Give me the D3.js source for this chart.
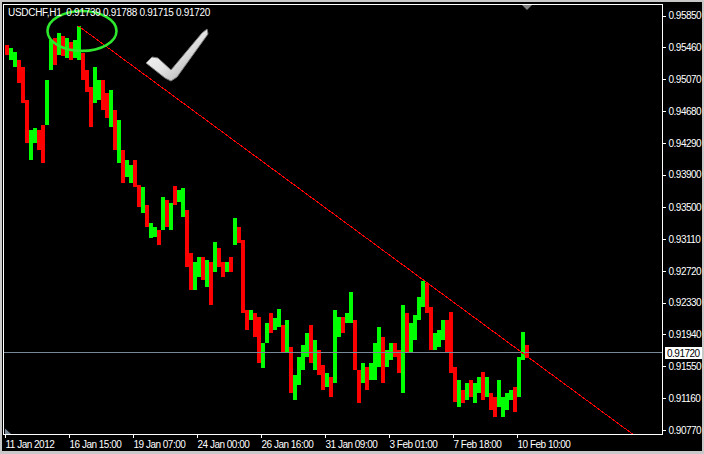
<!DOCTYPE html>
<html>
<head>
<meta charset="utf-8">
<script src="https://cdn.jsdelivr.net/npm/d3@7"></script>
<style>
  html, body { margin: 0; padding: 0; background: #000; }
  svg { display: block; }
</style>
</head>
<body>
<svg id="chart" width="704" height="454"></svg>
<script>
// ---- data (4-hour aggregated from the H1 chart) ----
const symbolTitle = "USDCHF,H1";
const lastOHLC = [0.91739, 0.91788, 0.91715, 0.91720];
const highs = [
  0.95489,0.95453,0.95404,0.95305,0.95220,0.94815,0.94447,0.94472,0.94447,0.94508,
  0.95060,0.95551,0.95575,0.95637,0.95600,0.95575,0.95526,0.95551,0.95722,0.95391,
  0.95183,0.94974,0.95220,0.95060,0.95060,0.94901,0.94938,0.94692,0.94570,0.94202,
  0.94079,0.94018,0.94079,0.93773,0.93748,0.93527,0.93306,0.93257,0.93221,0.93625,
  0.93589,0.93552,0.93760,0.93711,0.93736,0.93466,0.92939,0.92828,0.92890,0.92890,
  0.92853,0.92828,0.93073,0.93000,0.92828,0.92828,0.92890,0.93368,0.93257,0.93098,
  0.92240,0.92240,0.92203,0.92154,0.91835,0.92080,0.92203,0.92141,0.92252,0.92056,
  0.92117,0.91786,0.91442,0.91663,0.91810,0.91957,0.92056,0.91872,0.91749,0.91565,
  0.91467,0.91418,0.92240,0.92154,0.92154,0.92203,0.92460,0.92117,0.91504,0.91590,
  0.91540,0.91590,0.91835,0.92031,0.91908,0.91749,0.91835,0.91835,0.91749,0.92301,
  0.92203,0.92080,0.92178,0.92399,0.92595,0.92571,0.92276,0.91957,0.91994,0.92117,
  0.92117,0.92215,0.91540,0.91381,0.91258,0.91344,0.91381,0.91344,0.91418,0.91479,
  0.91418,0.91222,0.91173,0.91381,0.91173,0.91222,0.91258,0.91295,0.91663,0.91970,
  0.91810
];
const lows = [
  0.95367,0.95305,0.95220,0.95023,0.94778,0.94288,0.94079,0.94288,0.94202,0.94042,
  0.94508,0.95183,0.95244,0.95367,0.95355,0.95330,0.95305,0.95330,0.95305,0.95060,
  0.94913,0.94484,0.94778,0.94815,0.94692,0.94594,0.94484,0.94202,0.94042,0.93797,
  0.93871,0.93797,0.93748,0.93503,0.93429,0.93257,0.93122,0.93135,0.93037,0.93221,
  0.93257,0.93221,0.93527,0.93564,0.93380,0.92767,0.92485,0.92485,0.92644,0.92607,
  0.92522,0.92301,0.92706,0.92767,0.92644,0.92706,0.92706,0.93037,0.93061,0.92203,
  0.91994,0.92117,0.91908,0.91590,0.91528,0.91835,0.91957,0.91994,0.92031,0.91712,
  0.91712,0.91222,0.91136,0.91320,0.91504,0.91663,0.91590,0.91504,0.91442,0.91258,
  0.91295,0.91173,0.91344,0.91908,0.91957,0.92080,0.92080,0.91504,0.91099,0.91344,
  0.91258,0.91381,0.91381,0.91540,0.91344,0.91540,0.91626,0.91663,0.91467,0.91222,
  0.91712,0.91724,0.91872,0.92117,0.92276,0.92203,0.91749,0.91749,0.91786,0.91872,
  0.91712,0.91467,0.91111,0.91050,0.91099,0.91136,0.91173,0.91099,0.91222,0.91136,
  0.91173,0.91013,0.90927,0.91050,0.90927,0.91013,0.91136,0.90989,0.91173,0.91626,
  0.91650
];
// g = bullish (close > open), r = bearish
const directions = ("rggrrrggrr" + "ggrgrgrggr" + "rrggrrgrgr" + "ggrrgrggrg" + "rgrggrrggr" +
                    "grgrrgrgrr" + "rgrrggrggr" + "grggggrgrr" + "grggrggrrg" + "rgggrggrrg" +
                    "rggggrrggg" + "rrrgrgrggr" + "grrggggrggr").split("");
const hoursPerBar = 4;

const priceTicks = [0.95850,0.95460,0.95070,0.94680,0.94290,0.93900,0.93500,
                    0.93110,0.92720,0.92330,0.91940,0.91550,0.91160,0.90770];
const timeTickHours = [0, 64, 128, 192, 256, 320, 384, 448, 512];
const timeLabels = ["11 Jan 2012","16 Jan 15:00","19 Jan 07:00","24 Jan 00:00","26 Jan 16:00",
                    "31 Jan 09:00","3 Feb 01:00","7 Feb 18:00","10 Feb 10:00"];

const trendHours = [73.5, 627.5];
const trendPrices = [0.95722, 0.90719];
const bidPrice = 0.91720;

// ---- chart ----
const svg = d3.select("#chart");
const FONT = "'Liberation Sans', Arial, sans-serif";
const pL = 3.5, pR = 662.5, pT = 4.5, pB = 434.5;

const x = d3.scaleLinear().domain([0, 657]).range([5, 662]);
const y = d3.scaleLinear().domain([0.90719, 0.95980]).range([434, 5]);

// window border
svg.append("rect").attr("x",0).attr("y",0).attr("width",704).attr("height",454).attr("fill","#c8c8c8");
svg.append("rect").attr("x",2).attr("y",2).attr("width",700).attr("height",449).attr("fill","#000");

const defs = svg.append("defs");
defs.append("clipPath").attr("id","plot")
  .append("rect").attr("x",pL).attr("y",pT).attr("width",pR-pL).attr("height",pB-pT);
const grad = defs.append("linearGradient").attr("id","chk").attr("x1","0").attr("y1","0").attr("x2","1").attr("y2","1");
grad.append("stop").attr("offset","0").attr("stop-color","#ffffff");
grad.append("stop").attr("offset","0.5").attr("stop-color","#e4e4e4");
grad.append("stop").attr("offset","1").attr("stop-color","#9a9a9a");

const plot = svg.append("g").attr("clip-path","url(#plot)");

// bars
const bars = highs.map((h, i) => ({ i, h, l: lows[i], d: directions[i] }));
plot.append("g").attr("shape-rendering","crispEdges")
  .selectAll("rect").data(bars).join("rect")
  .attr("x", d => x(d.i * hoursPerBar))
  .attr("width", d => x((d.i + 1) * hoursPerBar) - x(d.i * hoursPerBar))
  .attr("y", d => Math.round(y(d.h)))
  .attr("height", d => Math.max(1, Math.round(y(d.l)) - Math.round(y(d.h))))
  .attr("fill", d => d.d === "g" ? "#00ff00" : "#ff0000");

// bid line
plot.append("line")
  .attr("x1", pL).attr("x2", pR)
  .attr("y1", Math.round(y(bidPrice)) + 0.5).attr("y2", Math.round(y(bidPrice)) + 0.5)
  .attr("stroke","#778899").attr("stroke-width",1);

// trend line
plot.append("line")
  .attr("x1", x(trendHours[0])).attr("y1", y(trendPrices[0]))
  .attr("x2", x(trendHours[1])).attr("y2", y(trendPrices[1]))
  .attr("stroke","#ff0000").attr("stroke-width",1).attr("shape-rendering","crispEdges");

// ellipse annotation around the top
plot.append("ellipse")
  .attr("cx", x(77)).attr("cy", y(0.95662))
  .attr("rx", x(77 + 34.5) - x(77)).attr("ry", y(0.95662 - 0.00245) - y(0.95662))
  .attr("fill","none").attr("stroke","#2ee82e").attr("stroke-width",2.6);

// check mark
plot.append("path")
  .attr("d","M146,63 L152,57 L158,58 L171,70 L202,33 L207,29 L208,34 L177,77 L171,81 L165,78 Z")
  .attr("fill","url(#chk)").attr("stroke","#7c7c7c").attr("stroke-width",1);

// frame
svg.append("rect").attr("x",pL).attr("y",pT).attr("width",pR-pL).attr("height",pB-pT)
  .attr("fill","none").attr("stroke","#ffffff").attr("stroke-width",1).attr("shape-rendering","crispEdges");

// right price axis
const yAxis = svg.append("g").attr("transform", `translate(${pR},0)`)
  .call(d3.axisRight(y).tickValues(priceTicks).tickFormat(d3.format(".5f")).tickSize(3).tickPadding(3));
yAxis.select(".domain").remove();
yAxis.selectAll("line").attr("stroke","#fff").attr("shape-rendering","crispEdges");
yAxis.selectAll("text").attr("fill","#fff").attr("font-family",FONT).attr("font-size",10)
  .attr("letter-spacing","-0.5px");

// bottom time axis
const xAxis = svg.append("g").attr("transform", `translate(0,${pB})`)
  .call(d3.axisBottom(x).tickValues(timeTickHours).tickFormat((d, i) => timeLabels[i]).tickSize(3));
xAxis.select(".domain").remove();
xAxis.selectAll("line").attr("stroke","#fff").attr("shape-rendering","crispEdges");
xAxis.selectAll("text").attr("fill","#fff").attr("font-family",FONT).attr("font-size",10)
  .attr("letter-spacing","-0.5px").attr("text-anchor","start").attr("x",0).attr("y",6);

// bid price label
const by = Math.round(y(bidPrice));
svg.append("rect").attr("x",665).attr("y",by-5).attr("width",37).attr("height",12).attr("fill","#fff");
svg.append("text").attr("x",667).attr("y",by+4.5).text(bidPrice.toFixed(5))
  .attr("fill","#000").attr("font-family",FONT).attr("font-size",10).attr("letter-spacing","-0.5px");

// header
svg.append("text").attr("x",8).attr("y",16)
  .text(symbolTitle + "  " + lastOHLC.map(v => v.toFixed(5)).join(" "))
  .attr("fill","#fff").attr("font-family",FONT).attr("font-size",10).attr("letter-spacing","-0.3px")
  .style("white-space","pre");

// chart-shift markers
svg.append("path").attr("d", `M${x(517)},${pT+0.5} L${x(527)},${pT+0.5} L${x(522)},${pT+5.5} Z`).attr("fill","#808080");
svg.append("path").attr("d", `M${x(0)},${pB-6} L${x(0)},${pB-0.5} L${x(6)},${pB-0.5} Z`).attr("fill","#778899");
</script>
</body>
</html>
